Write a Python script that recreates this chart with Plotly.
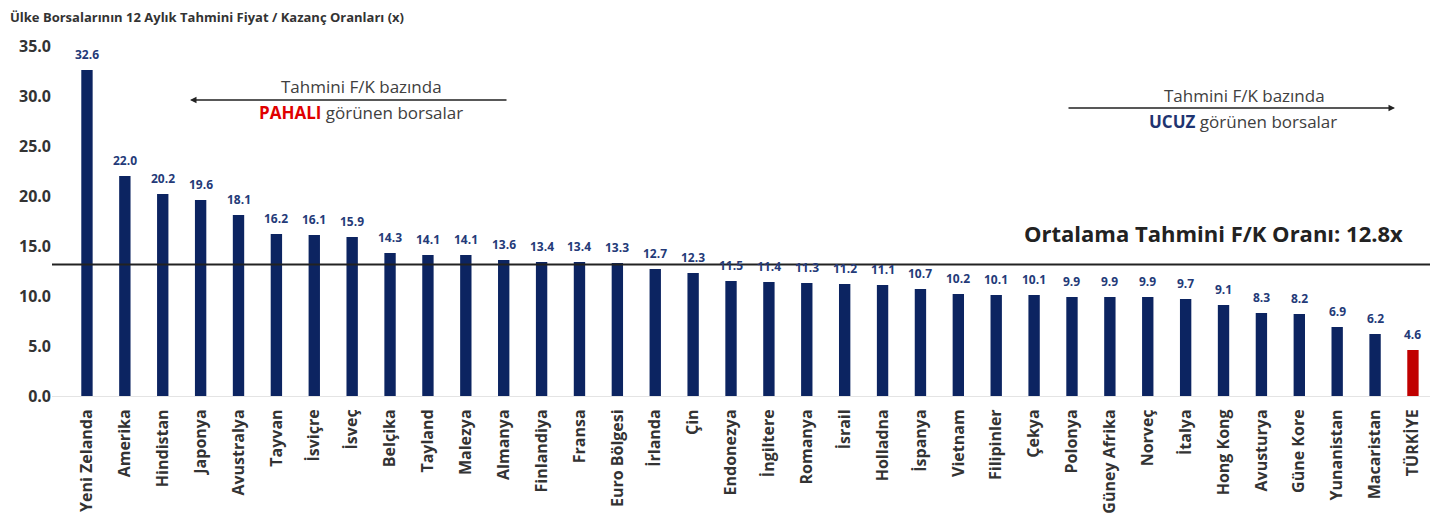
import plotly.graph_objects as go

categories = ["Yeni Zelanda", "Amerika", "Hindistan", "Japonya", "Avustralya", "Tayvan",
              "İsviçre", "İsveç", "Belçika", "Tayland", "Malezya", "Almanya", "Finlandiya",
              "Fransa", "Euro Bölgesi", "İrlanda", "Çin", "Endonezya", "İngiltere", "Romanya",
              "İsrail", "Holladna", "İspanya", "Vietnam", "Filipinler", "Çekya", "Polonya",
              "Güney Afrika", "Norveç", "İtalya", "Hong Kong", "Avusturya", "Güne Kore",
              "Yunanistan", "Macaristan", "TÜRKİYE"]
values = [32.6, 22.0, 20.2, 19.6, 18.1, 16.2, 16.1, 15.9, 14.3, 14.1, 14.1, 13.6, 13.4,
          13.4, 13.3, 12.7, 12.3, 11.5, 11.4, 11.3, 11.2, 11.1, 10.7, 10.2, 10.1, 10.1, 9.9,
          9.9, 9.9, 9.7, 9.1, 8.3, 8.2, 6.9, 6.2, 4.6]
average = 12.8
avg_line_level = 13.15   # where the reference line is drawn
y_ticks = [0, 5, 10, 15, 20, 25, 30, 35]

NAVY = "#0c2461"
RED = "#c00000"
colors = [RED if c == "TÜRKİYE" else NAVY for c in categories]

FONT = "Open Sans"
# browser body offset (8px margin)
OFF = 8
# plot area in screen pixels
SL, SR, ST, SB = 52, 1430, 46, 396
FW, FH = 1438 - 2 * OFF, 526 - 2 * OFF
L, T = SL - OFF, ST - OFF
R = FW - (SR - OFF)
B = FH - (SB - OFF)
pw = SR - SL
ph = SB - ST


def px(x):
    return (x - SL) / pw


def py(y):
    return (SB - y) / ph


fig = go.Figure()
fig.add_trace(go.Bar(
    x=categories, y=values, marker=dict(color=colors, line=dict(width=0)),
    width=0.3, showlegend=False, hoverinfo="x+y",
))

fig.add_shape(type="line", xref="paper", yref="y", x0=0, x1=1, y0=avg_line_level, y1=avg_line_level,
              line=dict(color="#222222", width=2))

ann = []
# value labels above bars
for c, v in zip(categories, values):
    ann.append(dict(text=f"<b>{v:.1f}</b>", x=c, y=v, xref="x", yref="y",
                    yanchor="middle", xanchor="center", yshift=16, showarrow=False,
                    font=dict(family=FONT, size=12, color="#243a78")))

ann.append(dict(text="<b>Ülke Borsalarının 12 Aylık Tahmini Fiyat / Kazanç Oranları (x)</b>",
                xref="paper", yref="paper", x=px(8), y=py(17),
                xanchor="left", yanchor="middle", showarrow=False,
                font=dict(family=FONT, size=13, color="#333333")))
# left arrow
ann.append(dict(text="", xref="paper", yref="paper", x=px(190), y=py(100), ax=318, ay=0,
                showarrow=True, arrowhead=2, arrowsize=1, arrowwidth=1.3, arrowcolor="#222222"))
ann.append(dict(text="Tahmini F/K bazında", xref="paper", yref="paper", x=px(361), y=py(87),
                xanchor="center", yanchor="middle",
                showarrow=False, font=dict(family=FONT, size=17, color="#404040")))
ann.append(dict(text="<b><span style='color:#e00000'>PAHALI</span></b> görünen borsalar",
                xref="paper", yref="paper", x=px(361), y=py(113),
                xanchor="center", yanchor="middle",
                showarrow=False, font=dict(family=FONT, size=17, color="#404040")))
# right arrow
ann.append(dict(text="", xref="paper", yref="paper", x=px(1395), y=py(108), ax=-328, ay=0,
                showarrow=True, arrowhead=2, arrowsize=1, arrowwidth=1.3, arrowcolor="#222222"))
ann.append(dict(text="Tahmini F/K bazında", xref="paper", yref="paper", x=px(1244), y=py(95),
                xanchor="center", yanchor="middle",
                showarrow=False, font=dict(family=FONT, size=17, color="#404040")))
ann.append(dict(text="<b><span style='color:#1f3470'>UCUZ</span></b> görünen borsalar",
                xref="paper", yref="paper", x=px(1243), y=py(121),
                xanchor="center", yanchor="middle",
                showarrow=False, font=dict(family=FONT, size=17, color="#404040")))
ann.append(dict(text=f"<b>Ortalama Tahmini F/K Oranı: {average}x</b>",
                xref="paper", yref="paper", x=px(1405), y=py(233), xanchor="right",
                yanchor="middle",
                showarrow=False, font=dict(family=FONT, size=22, color="#222222")))

fig.update_layout(
    width=FW, height=FH,
    margin=dict(l=L, r=R, t=T, b=B, pad=0, autoexpand=False),
    paper_bgcolor="white", plot_bgcolor="white",
    annotations=ann,
    xaxis=dict(range=[-0.923, 35.45], tickangle=-90, showgrid=False, zeroline=False,
               showline=True, linecolor="#e4e4e4", linewidth=1, ticks="",
               tickfont=dict(family=FONT, size=16, color="#333333"),
               ticklabelstandoff=6, automargin=False),
    yaxis=dict(range=[0, 35], tickvals=y_ticks, ticktext=[f"<b>{v:.1f}</b>" for v in y_ticks],
               showgrid=False, zeroline=False, showline=False, ticks="", automargin=False,
               tickfont=dict(family=FONT, size=16, color="#333333")),
)
fig.update_xaxes(tickvals=categories, ticktext=[f"<b>{c}</b>" for c in categories])

fig.write_html("out.html")
